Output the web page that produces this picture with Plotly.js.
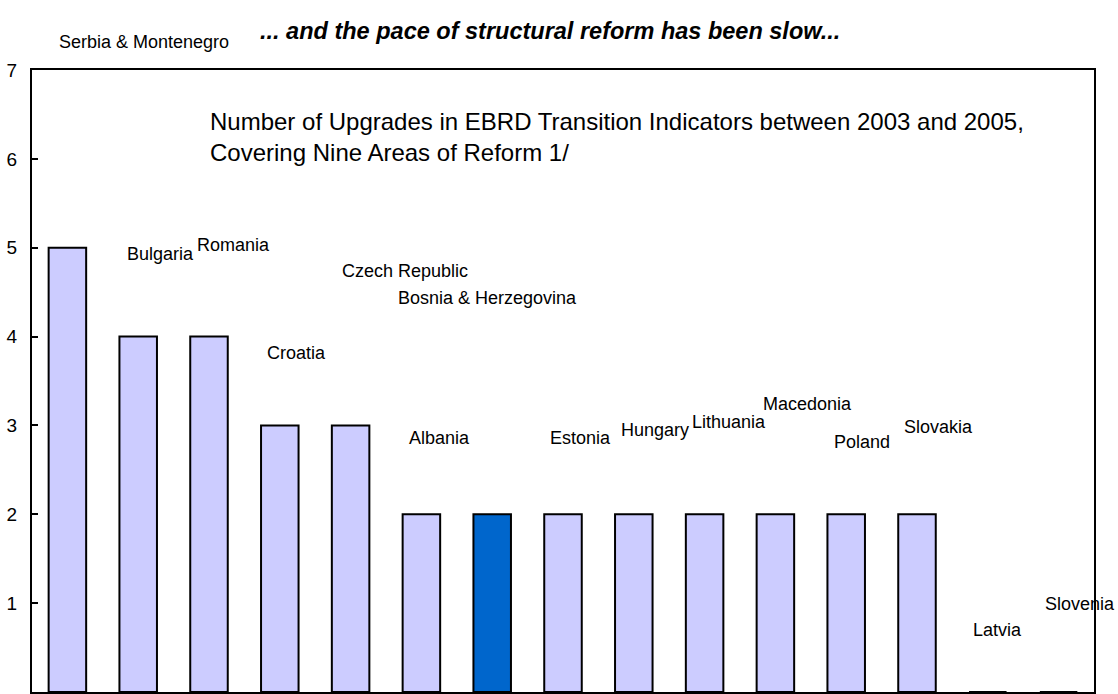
<!DOCTYPE html>
<html><head><meta charset="utf-8">
<script src="https://cdn.plot.ly/plotly-3.0.1.min.js"></script>
<style>body{margin:0;background:#fff}#chart{width:1118px;height:694px}</style>
</head><body><div id="chart"></div>
<script>
var countries = ["Serbia & Montenegro","Bulgaria","Romania","Croatia","Czech Republic","Albania","Bosnia & Herzegovina","Estonia","Hungary","Lithuania","Macedonia","Poland","Slovakia","Latvia","Slovenia"];
var upgrades = [5,4,4,3,3,2,2,2,2,2,2,2,2,0,0];
var highlight = "Bosnia & Herzegovina";
var yTicks = [0,1,2,3,4,5,6,7];
var chartTitle = "... and the pace of structural reform has been slow...";
var innerTitle = "Number of Upgrades in EBRD Transition Indicators between 2003 and 2005,<br>Covering Nine Areas of Reform 1/";

// label placement (layout only): [x index position, y position in axis units] per country
var labelPos = {
  "Serbia & Montenegro":[1.08,7.31],
  "Bulgaria":[1.32,4.93],
  "Romania":[2.35,5.03],
  "Croatia":[3.24,3.82],
  "Czech Republic":[4.77,4.74],
  "Albania":[5.26,2.86],
  "Bosnia & Herzegovina":[5.94,4.43],
  "Estonia":[7.25,2.86],
  "Hungary":[8.30,2.95],
  "Lithuania":[9.34,3.04],
  "Macedonia":[10.46,3.24],
  "Poland":[11.22,2.81],
  "Slovakia":[12.30,2.98],
  "Latvia":[13.14,0.70],
  "Slovenia":[14.30,0.99]
};

var FONT = "'Liberation Sans', Arial, sans-serif";
var XR = [-0.5, 14.5], YR = [0, 7];
var colors = countries.map(function(c){return c===highlight?"#0066CC":"#CCCCFF";});
var trace = {
  type:"bar", x: countries.map(function(c,i){return i;}), y: upgrades,
  marker:{color:colors, line:{color:"#000", width:2}},
  width:0.53, hoverinfo:"none"
};
var ann = countries.map(function(c){
  var p = labelPos[c];
  return {x:(p[0]-XR[0])/(XR[1]-XR[0]), y:(p[1]-YR[0])/(YR[1]-YR[0]), xref:"paper", yref:"paper",
    text:c, showarrow:false, xanchor:"center", yanchor:"middle",
    font:{family:FONT, size:18, color:"#000"}};
});
ann.push({x:(550-32)/1062, xref:"paper", y:(692-31)/622, yref:"paper", text:"<b><i>"+chartTitle+"</i></b>", showarrow:false,
  xanchor:"center", yanchor:"middle", font:{family:FONT, size:23.5, color:"#000"}});
ann.push({x:(208-32)/1062, xref:"paper", y:(692-106)/622, yref:"paper", text:innerTitle, showarrow:false,
  xanchor:"left", yanchor:"top", align:"left", font:{family:FONT, size:24, color:"#000"}});

var layout = {
  width:1118, height:694,
  margin:{l:32, r:24, t:70, b:2},
  paper_bgcolor:"#fff", plot_bgcolor:"#fff",
  showlegend:false,
  xaxis:{range:XR, showticklabels:false, ticks:"", showgrid:false, zeroline:false,
    showline:true, mirror:true, linecolor:"#000", linewidth:2, fixedrange:true},
  yaxis:{range:YR, tickvals:yTicks, ticktext:yTicks.map(String), ticks:"inside", ticklen:6, tickcolor:"#000", tickwidth:2,
    showgrid:false, zeroline:false, showline:true, mirror:true, linecolor:"#000", linewidth:2,
    tickfont:{family:FONT, size:19, color:"#000"}, ticklabelstandoff:9},
  annotations:ann
};
Plotly.newPlot("chart",[trace],layout,{staticPlot:true});
</script></body></html>
